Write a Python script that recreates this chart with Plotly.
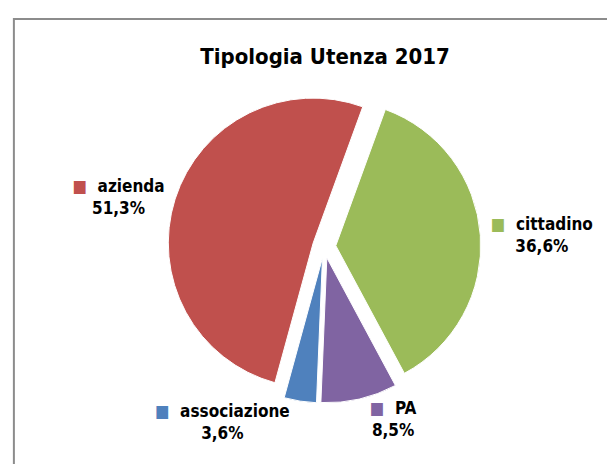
import plotly.graph_objects as go

categories = ["cittadino", "PA", "associazione", "azienda"]
values = [36.6, 8.5, 3.6, 51.3]
colors = ["#9BBB59", "#8064A2", "#4F81BD", "#C0504D"]
title_text = "Tipologia Utenza 2017"

FONT = "DejaVu Sans Condensed, Liberation Sans Narrow, Arial Narrow, sans-serif"

W, H = 615, 464

texttemplate = [
    f"<span style='color:{c}'>■</span>  %{{label}}<br>%{{percent:.1%}}" for c in colors
]

fig = go.Figure(
    go.Pie(
        labels=categories,
        values=values,
        sort=False,
        direction="clockwise",
        rotation=20,
        pull=[0.08, 0.08, 0.08, 0.08],
        marker=dict(colors=colors, line=dict(color="white", width=1)),
        textposition="outside",
        texttemplate=texttemplate,
        textfont=dict(family=FONT, size=17, color="black", weight="bold"),
        showlegend=False,
        domain=dict(x=[(322 - 160) / W, (322 + 160) / W], y=[1 - 395 / H, 1 - 82 / H]),
    )
)

fig.update_layout(
    width=W,
    height=H,
    margin=dict(l=0, r=0, t=0, b=0),
    paper_bgcolor="white",
    plot_bgcolor="white",
    separators=",.",
    title=dict(
        text=title_text,
        x=317 / W,
        xanchor="center",
        y=1 - 48 / H,
        yanchor="middle",
        yref="container",
        xref="container",
        font=dict(family=FONT, size=22, color="black", weight="bold"),
    ),
    shapes=[
        dict(
            type="rect",
            xref="paper",
            yref="paper",
            x0=6 / W,
            x1=1.05,
            y0=-0.05,
            y1=1 - 11 / H,
            line=dict(color="#8C8C8C", width=2),
            fillcolor="rgba(0,0,0,0)",
            layer="below",
        )
    ],
)

fig.write_html("out.html")
